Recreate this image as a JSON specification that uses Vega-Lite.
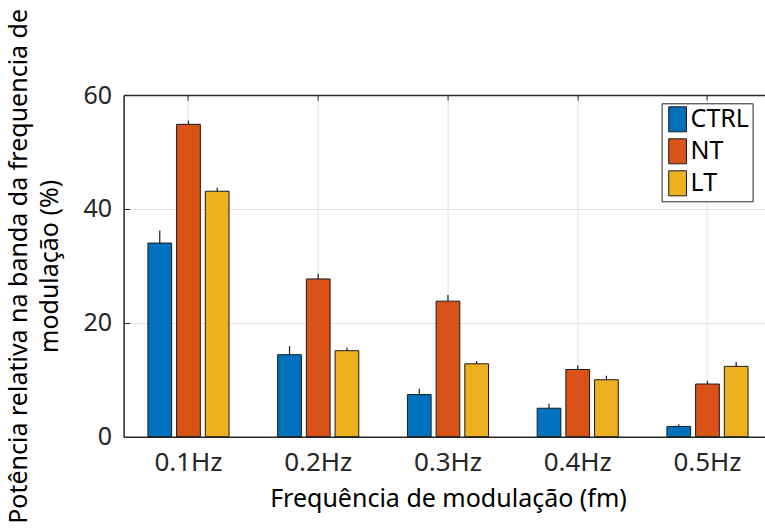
{
  "$schema": "https://vega.github.io/schema/vega-lite/v6.json",
  "width": 641.4,
  "height": 341.7,
  "autosize": {"type": "none"},
  "padding": {"left": 123.6, "top": 95, "right": 0, "bottom": 92.3},
  "background": "white",
  "config": {
    "font": "Noto Sans",
    "view": {"stroke": null},
    "axis": {"domainColor": "#262626", "domainWidth": 1.5, "tickColor": "#262626", "gridColor": "#e3e3e3", "gridWidth": 1, "labelColor": "#262626", "labelFont": "Noto Sans", "titleFont": "Noto Sans", "titleFontWeight": "normal", "titleColor": "#000000"}
  },
  "data": {
    "values": [
      {"freq": "0.1Hz", "grupo": "CTRL", "valor": 34.0, "sup": 36.2},
      {"freq": "0.1Hz", "grupo": "NT", "valor": 54.85, "sup": 55.5},
      {"freq": "0.1Hz", "grupo": "LT", "valor": 43.1, "sup": 43.7},
      {"freq": "0.2Hz", "grupo": "CTRL", "valor": 14.4, "sup": 15.9},
      {"freq": "0.2Hz", "grupo": "NT", "valor": 27.7, "sup": 28.6},
      {"freq": "0.2Hz", "grupo": "LT", "valor": 15.1, "sup": 15.6},
      {"freq": "0.3Hz", "grupo": "CTRL", "valor": 7.4, "sup": 8.4},
      {"freq": "0.3Hz", "grupo": "NT", "valor": 23.8, "sup": 24.9},
      {"freq": "0.3Hz", "grupo": "LT", "valor": 12.8, "sup": 13.3},
      {"freq": "0.4Hz", "grupo": "CTRL", "valor": 5.0, "sup": 5.8},
      {"freq": "0.4Hz", "grupo": "NT", "valor": 11.8, "sup": 12.5},
      {"freq": "0.4Hz", "grupo": "LT", "valor": 10.0, "sup": 10.7},
      {"freq": "0.5Hz", "grupo": "CTRL", "valor": 1.8, "sup": 2.2},
      {"freq": "0.5Hz", "grupo": "NT", "valor": 9.25, "sup": 9.8},
      {"freq": "0.5Hz", "grupo": "LT", "valor": 12.35, "sup": 13.1}
    ]
  },
  "encoding": {
    "x": {
      "field": "freq", "type": "nominal", "sort": null,
      "scale": {"range": [0, 648.75], "paddingInner": 0, "paddingOuter": 0}
    },
    "xOffset": {
      "field": "grupo", "type": "nominal",
      "scale": {"domain": ["CTRL", "NT", "LT"], "paddingInner": 0.174, "paddingOuter": 0.847}
    }
  },
  "layer": [
    {
      "mark": {"type": "bar", "stroke": "#1a1a1a", "strokeWidth": 1},
      "encoding": {
        "x": {
          "field": "freq", "type": "nominal", "sort": null,
          "axis": {"orient": "bottom", "title": "Frequência de modulação (fm)", "labelAngle": 0, "labelFontSize": 26, "titleFontSize": 25, "tickSize": 0, "labelPadding": 13, "titlePadding": 11, "grid": true, "domainColor": "#262626"}
        },
        "y": {
          "field": "valor", "type": "quantitative",
          "scale": {"domain": [0, 60], "nice": false},
          "axis": {"values": [0, 20, 40, 60], "title": ["Potência relativa na banda da frequencia de", "modulação (%)"], "titleFontSize": 25, "titleLineHeight": 31, "labelFontSize": 25, "tickSize": -6, "labelPadding": 18, "titlePadding": 20, "grid": true}
        },
        "fill": {
          "field": "grupo", "type": "nominal",
          "scale": {"domain": ["CTRL", "NT", "LT"], "range": ["#0072BD", "#D95319", "#EDB120"]},
          "legend": {
            "title": null, "orient": "none", "legendX": 538, "legendY": 8.3,
            "strokeColor": "#262626", "fillColor": "white", "padding": 3,
            "symbolType": "M-0.71,-1H0.71V1H-0.71Z", "symbolSize": 625,
            "symbolStrokeColor": "#1a1a1a", "symbolStrokeWidth": 1,
            "labelFontSize": 25, "labelColor": "#000000", "labelOffset": 0,
            "rowPadding": 2
          }
        }
      }
    },
    {
      "mark": {"type": "rule", "stroke": "#1a1a1a", "strokeWidth": 1.2},
      "encoding": {
        "x": {
          "field": "freq", "type": "nominal", "sort": null,
          "axis": {"orient": "top", "title": null, "labels": false, "tickSize": -5, "grid": false, "domainColor": "#262626"}
        },
        "y": {"field": "valor", "type": "quantitative"},
        "y2": {"field": "sup"}
      }
    }
  ]
}
